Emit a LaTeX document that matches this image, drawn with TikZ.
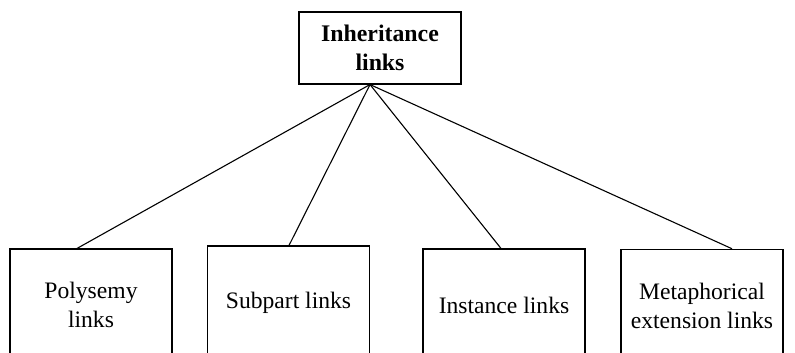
\documentclass[tikz,border=0pt]{standalone}
\usepackage{fontspec}
\setmainfont{Liberation Serif}
\begin{document}
\begin{tikzpicture}[x=1pt,y=-1pt,
  box/.style={draw,line width=1.1pt,inner sep=0pt,align=center,
    font=\fontsize{23.6}{28.5}\selectfont},
  topbox/.style={box,minimum width=162pt,minimum height=72pt,
    font=\fontsize{23.8}{29}\selectfont\bfseries},
  leaf/.style={box,minimum width=162pt},
  link/.style={line width=1.1pt}]
\useasboundingbox (0,0) rectangle (795,353);
\clip (0,0) rectangle (795,353);
\fill[white] (0,0) rectangle (795,353);
\node[topbox] (top) at (380,48) {Inheritance\\links};
\node[leaf,minimum height=112pt] (poly) at (91,305) {Polysemy\\links};
\node[leaf,minimum height=113pt] (sub) at (288.5,302.5) {Subpart links};
\node[leaf,minimum height=112pt] (inst) at (504,305) {Instance links};
\node[leaf,minimum height=113pt] (meta) at (702,305.8) {Metaphorical\\extension links};
\coordinate (apex) at (370,0 |- top.south);
\draw[link] (apex) -- (77,0 |- poly.north);
\draw[link] (apex) -- (289,0 |- sub.north);
\draw[link] (apex) -- (501,0 |- inst.north);
\draw[link] (apex) -- (732,0 |- meta.north);
\end{tikzpicture}
\end{document}
